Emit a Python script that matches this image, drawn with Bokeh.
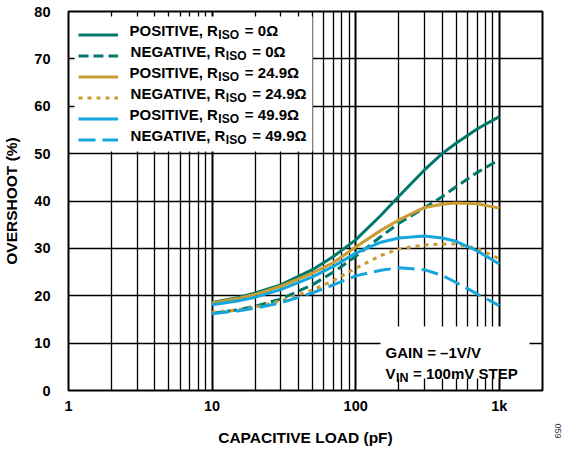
import math
from bokeh.plotting import figure
from bokeh.models import (FixedTicker, CustomJSTickFormatter, Label, BoxAnnotation,
                          Legend, LegendItem, Title)
from bokeh.embed import file_html
from bokeh.resources import INLINE

# ---------------- data ----------------
cap_pf = [10, 15, 20, 30, 50, 70, 100, 150, 200, 300, 400, 500, 700, 1000]
pos_r0 = [18.6, 19.6, 20.6, 22.3, 25.5, 28.3, 31.8, 37.0, 41.0, 46.5, 50.0, 52.2, 55.2, 57.8]
neg_r0 = [16.3, 17.0, 17.8, 19.3, 22.3, 25.0, 28.3, 32.5, 35.3, 38.5, 40.9, 43.0, 46.0, 48.7]
pos_r249 = [18.5, 19.4, 20.3, 22.0, 24.8, 27.0, 30.3, 33.8, 36.0, 38.6, 39.3, 39.6, 39.4, 38.5]
neg_r249 = [16.5, 17.0, 17.6, 18.9, 21.2, 23.2, 25.8, 28.5, 29.9, 30.7, 30.9, 30.9, 30.0, 27.8]
pos_r499 = [18.1, 18.9, 19.7, 21.3, 24.0, 26.2, 29.0, 31.3, 32.2, 32.6, 32.2, 31.5, 29.5, 26.7]
neg_r499 = [16.2, 16.8, 17.4, 18.5, 20.6, 22.3, 24.2, 25.4, 25.9, 25.5, 24.3, 22.8, 20.4, 17.9]

x_major = [1, 10, 100, 1000]
x_minor = [2, 3, 4, 5, 6, 7, 8, 9, 20, 30, 40, 50, 60, 70, 80, 90,
           200, 300, 400, 500, 600, 700, 800, 900]
y_major = [0, 10, 20, 30, 40, 50, 60, 70, 80]

legend_main = ["POSITIVE, R", "NEGATIVE, R", "POSITIVE, R", "NEGATIVE, R",
               "POSITIVE, R", "NEGATIVE, R"]
legend_sub = ["ISO"] * 6
legend_rest = ["= 0Ω", "= 0Ω", "= 24.9Ω", "= 24.9Ω", "= 49.9Ω", "= 49.9Ω"]

# ---------------- styles ----------------
TEAL = "#00786B"
GOLD = "#C99C33"
BLUE = "#14A5DC"
FONT = "Liberation Sans"
series = [
    (pos_r0, TEAL, "solid"),
    (neg_r0, TEAL, "10 5"),
    (pos_r249, GOLD, "solid"),
    (neg_r249, GOLD, "4 5"),
    (pos_r499, BLUE, "solid"),
    (neg_r499, BLUE, "17 7"),
]

# frame geometry (canvas pixels)
FL, FT, FW, FH = 66, 11, 474, 379
X0, X1 = 1, 2000
Y0, Y1 = 0, 80


def px2x(px):
    return 10 ** (math.log10(X0) + (px - FL) / FW * (math.log10(X1) - math.log10(X0)))


def px2y(py):
    return Y0 + (FT + FH - py) / FH * (Y1 - Y0)


# Arial/Liberation Sans Bold advance widths (per 1000 em)
AW = {'P': 667, 'O': 778, 'S': 667, 'I': 278, 'T': 611, 'V': 667, 'E': 667, ',': 278,
      ' ': 278, 'R': 722, 'N': 722, 'G': 778, 'A': 722}


def text_w(s, size):
    return sum(AW.get(c, 556) for c in s) * size / 1000.0


p = figure(x_axis_type="log", x_range=(X0, X1), y_range=(Y0, Y1),
           frame_width=FW, frame_height=FH,
           min_border_left=FL, min_border_right=26, min_border_top=FT, min_border_bottom=58,
           output_backend="svg", toolbar_location=None)
p.background_fill_color = "white"
p.border_fill_color = "white"
p.outline_line_color = "black"
p.outline_line_width = 2

xt = FixedTicker(ticks=x_major, minor_ticks=x_minor)
p.xaxis.ticker = xt
p.xgrid.ticker = xt
p.xaxis.formatter = CustomJSTickFormatter(
    code="return tick >= 1000 ? (tick / 1000) + 'k' : String(tick);")
yt = FixedTicker(ticks=y_major)
p.yaxis.ticker = yt
p.ygrid.ticker = yt

for ax in (p.xaxis, p.yaxis):
    ax.axis_line_color = None
    ax.major_tick_line_color = None
    ax.minor_tick_line_color = None
    ax.major_label_text_font = FONT
    ax.major_label_text_font_style = "bold"
    ax.major_label_text_font_size = "14.5px"
    ax.major_label_text_color = "black"
    ax.axis_label_text_font = FONT
    ax.axis_label_text_font_style = "bold"
    ax.axis_label_text_font_size = "15.5px"
    ax.axis_label_text_color = "black"
p.xaxis.major_label_standoff = 1
p.yaxis.major_label_standoff = 12
p.yaxis.axis_label = "OVERSHOOT (%)"
p.yaxis.axis_label_standoff = 11
p.xaxis.axis_label = "CAPACITIVE LOAD (pF)"
p.xaxis.axis_label_standoff = 12

p.xgrid.grid_line_color = "black"
p.xgrid.grid_line_width = 2
p.xgrid.minor_grid_line_color = "black"
p.xgrid.minor_grid_line_width = 1.3
p.ygrid.grid_line_color = "black"
p.ygrid.grid_line_width = 1.5

renderers = []
for ys, col, dash in series:
    r = p.line(cap_pf, ys, line_color=col, line_width=3, line_dash=dash)
    renderers.append(r)

# white panel behind legend
p.add_layout(BoxAnnotation(left=px2x(72), right=px2x(310), top=px2y(16), bottom=px2y(151),
                           fill_color="white", fill_alpha=1, line_color=None, level="annotation"))
# white panel behind note
p.add_layout(BoxAnnotation(left=px2x(378), right=px2x(527), top=px2y(326), bottom=px2y(378),
                           fill_color="white", fill_alpha=1, line_color=None, level="annotation"))

LEG_LEFT, PAD, GW, STAND, ROWH = 76, 4, 40, 7, 21
legend_top = 15.5
n = len(legend_main)
leg_h = 2 * PAD + n * ROWH
legend = Legend(items=[LegendItem(label=" ", renderers=[renderers[i]]) for i in range(n)],
                location=(LEG_LEFT - FL, FT + FH - (legend_top + leg_h)),
                padding=PAD, margin=0, spacing=0, glyph_width=GW, glyph_height=ROWH,
                label_height=ROWH, label_standoff=STAND, label_width=10,
                label_text_font_size="15px",
                background_fill_alpha=0, border_line_color=None)
p.add_layout(legend, "center")

TS = 15
text_x0 = LEG_LEFT + PAD + GW + STAND
for i in range(n):
    cy = legend_top + PAD + ROWH * (i + 0.5)
    ex = text_x0 + text_w(legend_main[i], TS)
    p.add_layout(Label(x=px2x(ex), y=px2y(cy), text=legend_main[i],
                       text_font=FONT, text_font_style="bold", text_font_size=f"{TS}px",
                       text_baseline="middle", text_align="right", text_color="black"))
    p.add_layout(Label(x=px2x(ex + 0.5), y=px2y(cy + 4.5), text=legend_sub[i],
                       text_font=FONT, text_font_style="bold", text_font_size="12px",
                       text_baseline="middle", text_align="left", text_color="black"))
    p.add_layout(Label(x=px2x(ex + 27), y=px2y(cy), text=legend_rest[i],
                       text_font=FONT, text_font_style="bold", text_font_size=f"{TS}px",
                       text_baseline="middle", text_align="left", text_color="black"))

# note box text
p.add_layout(Label(x=px2x(383), y=px2y(352), text="GAIN = –1V/V",
                   text_font=FONT, text_font_style="bold", text_font_size="15px",
                   text_baseline="middle", text_align="left", text_color="black"))
p.add_layout(Label(x=px2x(383), y=px2y(373), text="V",
                   text_font=FONT, text_font_style="bold", text_font_size="15px",
                   text_baseline="middle", text_align="left", text_color="black"))
p.add_layout(Label(x=px2x(393.5), y=px2y(377.5), text="IN",
                   text_font=FONT, text_font_style="bold", text_font_size="12.5px",
                   text_baseline="middle", text_align="left", text_color="black"))
p.add_layout(Label(x=px2x(410.5), y=px2y(373), text="= 100mV STEP",
                   text_font=FONT, text_font_style="bold", text_font_size="15px",
                   text_baseline="middle", text_align="left", text_color="black"))

# figure id, outside the frame at the lower right
p.add_layout(Title(text="059", text_font=FONT, text_font_size="9px",
                   text_font_style="normal", text_color="#333333",
                   align="right", offset=-48, standoff=24), "right")

open("out.html", "w").write(file_html(p, INLINE))
